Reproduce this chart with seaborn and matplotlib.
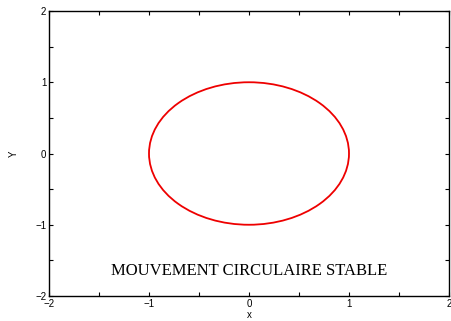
import matplotlib
matplotlib.use("Agg")
import matplotlib.pyplot as plt
import seaborn as sns
from matplotlib.patches import Circle

# Chart data
center_x = 0.0
center_y = 0.0
radius = 1.0
x_ticks = [-2, -1, 0, 1, 2]
y_ticks = [-2, -1, 0, 1, 2]
minor_ticks = [-1.5, -0.5, 0.5, 1.5]
title_text = "MOUVEMENT CIRCULAIRE STABLE"
title_pos = (0.0, -1.65)

sns.set_style("ticks")
plt.rcParams["font.family"] = ["Liberation Sans", "DejaVu Sans"]
plt.rcParams["text.color"] = "black"
plt.rcParams["axes.labelcolor"] = "black"
plt.rcParams["xtick.labelcolor"] = "black"
plt.rcParams["ytick.labelcolor"] = "black"

fig = plt.figure(figsize=(4.52, 3.21), dpi=100, facecolor="white")
ax = fig.add_axes([49 / 452, 1 - 296 / 321, 400 / 452, 285 / 321])

ax.add_patch(Circle((center_x, center_y), radius, fill=False,
                    edgecolor="#ee0000", linewidth=1.3))

ax.set_xlim(-2, 2)
ax.set_ylim(-2, 2)
ax.set_xticks(x_ticks)
ax.set_yticks(y_ticks)
ax.set_xticklabels(["\u22122", "\u22121", "0", "1", "2"])
ax.set_yticklabels(["\u22122", "\u22121", "0", "1", "2"])
ax.set_xticks(minor_ticks, minor=True)
ax.set_yticks(minor_ticks, minor=True)
ax.tick_params(which="both", direction="in", top=True, right=True,
               length=3, width=0.8, labelsize=7, pad=2, color="black")

for s in ax.spines.values():
    s.set_linewidth(1.0)
    s.set_color("black")

ax.set_xlabel("x", fontsize=7, labelpad=1)
ax.set_ylabel("Y", fontsize=7, labelpad=12)

ax.text(title_pos[0], title_pos[1], title_text, ha="center", va="center",
        fontsize=12, family="Liberation Serif", color="black")

fig.savefig("out.png", dpi=100)
